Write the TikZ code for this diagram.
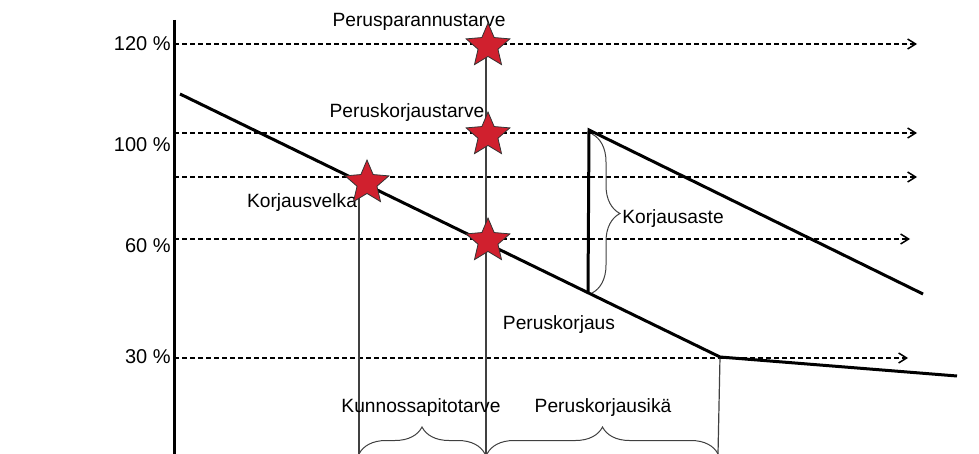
\documentclass[tikz,border=0pt]{standalone}
\usepackage{fontspec}
\setmainfont{Liberation Sans}
\usetikzlibrary{shapes.geometric, arrows.meta, decorations.pathreplacing}
\definecolor{starred}{RGB}{208,32,46}

\begin{document}
\begin{tikzpicture}[x=0.5pt, y=-0.5pt,
    font=\fontsize{9.6}{11}\selectfont,
    guide/.style={dash pattern=on 2.5pt off 1.5pt, line width=0.75pt, -{Straight Barb[length=4pt,width=5pt]}},
    curve/.style={line width=1.5pt},
    vline/.style={black!75, line width=0.6pt},
    bracket/.style={decorate, decoration={brace, amplitude=#1}, black!75, line width=0.5pt},
    lbl/.style={inner sep=0pt},
    starmark/.style={star, star points=5, star point ratio=2.2, minimum size=23pt, inner sep=0pt, fill=starred, draw=black!80, line width=0.4pt}]
    \useasboundingbox (0,0) rectangle (979,454);

    % Level lines
    \foreach \y/\e in {44/917, 133/917, 177/917, 239/910, 358/908} {
        \draw[guide] (174,\y) -- (\e,\y);
    }
    \foreach \y/\p in {44/120, 145/100, 246/60, 357/30} {
        \node[lbl, anchor=east, font=\fontsize{10}{12}\selectfont] (p\p) at (171,\y) {\p\ \%};
    }

    % Axis
    \coordinate (axtop) at (174,20);
    \coordinate (axbot) at (174,454);
    \draw[line width=1.5pt] (axtop) -- (axbot);

    % Condition curves
    \coordinate (start) at (180,94);
    \coordinate (knee) at (720,357);
    \coordinate (tail) at (957,376);
    \coordinate (lift) at (588,293);
    \coordinate (peak) at (589,130);
    \coordinate (fade) at (923,294);

    % Time marks
    \draw[vline] (359,190) -- (359,454);
    \draw[vline] (486,44) -- (486,454);
    \draw[vline] (knee) -- (718,454);

    \draw[curve] (start) -- (knee) -- (tail);
    \draw[curve, line join=miter] (lift) -- (peak) -- (fade);

    % Braces
    \draw[bracket=14pt] (592,134) -- (592,293);
    \draw[bracket=13.5pt] (359,454) -- (485,454);
    \draw[bracket=13.5pt] (487,454) -- (718,454);

    % Labels
    \node[lbl] (upgrade) at (419,22) {Perusparannustarve};
    \node[lbl] (renoneed) at (407,113) {Peruskorjaustarve};
    \node[lbl] (debt) at (302,203) {Korjausvelka};
    \node[lbl] (degree) at (673,219) {Korjausaste};
    \node[lbl] (reno) at (559,325) {Peruskorjaus};
    \node[lbl] (upkeep) at (421,408) {Kunnossapitotarve};
    \node[lbl] (renoage) at (603,408) {Peruskorjausikä};

    % Stars
    \foreach \x/\y/\n in {488/46/s1, 488/135/s2, 367/183/s3, 488/241/s4} {
        \node[starmark] (\n) at (\x,\y) {};
    }
\end{tikzpicture}
\end{document}
